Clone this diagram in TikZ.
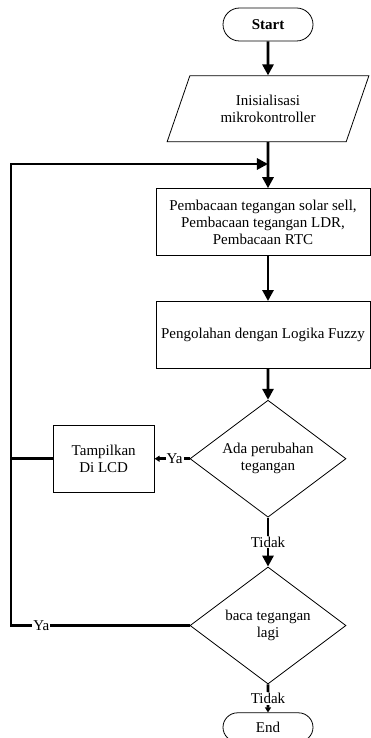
\documentclass[tikz,border=0pt]{standalone}
\usepackage{fontspec}
\setmainfont{Liberation Serif}
\usetikzlibrary{shapes.geometric,shapes.misc,positioning,arrows.meta}

\begin{document}
\begin{tikzpicture}[x=1pt,y=-1pt,font=\fontsize{15}{17}\selectfont,
    terminal/.style={draw,line width=0.8pt,rounded rectangle,minimum width=90pt,minimum height=33pt,inner sep=0pt},
    io/.style={draw,line width=0.8pt,trapezium,trapezium left angle=63.4,trapezium right angle=116.6,
        trapezium stretches=true,minimum width=202pt,minimum height=66pt,inner sep=0pt,align=center},
    process/.style={draw,line width=0.8pt,rectangle,minimum width=214pt,minimum height=67pt,inner sep=0pt,align=center},
    decision/.style={draw,line width=0.8pt,diamond,aspect=1.33,minimum width=156pt,minimum height=117pt,inner sep=0pt,align=center},
    garis/.style={line width=2.8pt},
    panah/.style={garis,-{Triangle[length=11pt,width=11pt]}},
    panahkecil/.style={garis,-{Triangle[length=5pt,width=6pt]}},
    jawab/.style={fill=white,inner sep=1pt}]
\useasboundingbox (0,0) rectangle (371,738);

\node[terminal,font=\fontsize{15}{17}\selectfont\bfseries] (start) at (268,24.5) {Start};
\node[io] (init) [below=34pt of start] {Inisialisasi\\mikrokontroller};
\node[process] (baca) [below=46pt of init, xshift=-5pt] {Pembacaan tegangan solar sell,\\Pembacaan tegangan LDR,\\Pembacaan RTC};
\node[process] (fuzzy) [below=45pt of baca] {Pengolahan dengan Logika Fuzzy};
\node[decision] (ubah) [below=31pt of fuzzy, xshift=5pt] {Ada perubahan\\tegangan};
\node[process,minimum width=101pt] (lcd) [left=35pt of ubah] {Tampilkan\\Di LCD};
\node[decision] (lagi) [below=49pt of ubah] {baca tegangan\\lagi};
\node[terminal,minimum height=29pt] (end) [below=28pt of lagi] {End};
\coordinate (kiri) at (11,164);

\draw[panah] (start) -- (init);
\draw[panah] (init) -- (init |- baca.north);
\draw[panah] (baca.south -| init) -- (fuzzy.north -| init);
\draw[panah] (fuzzy.south -| init) -- (ubah);
\draw[panahkecil] (ubah) -- node[jawab,pos=0.43] {Ya} (lcd);
\draw[garis] (lcd.west) -- (lcd.west -| kiri);
\draw[panah] (ubah) -- node[jawab] {Tidak} (lagi);
\draw[panah] (lagi.west) -- node[jawab,pos=0.83] {Ya} (lagi.west -| kiri) -- (kiri) -- (kiri -| init);
\draw[panahkecil] (lagi) -- node[jawab] {Tidak} (end);
\end{tikzpicture}
\end{document}
